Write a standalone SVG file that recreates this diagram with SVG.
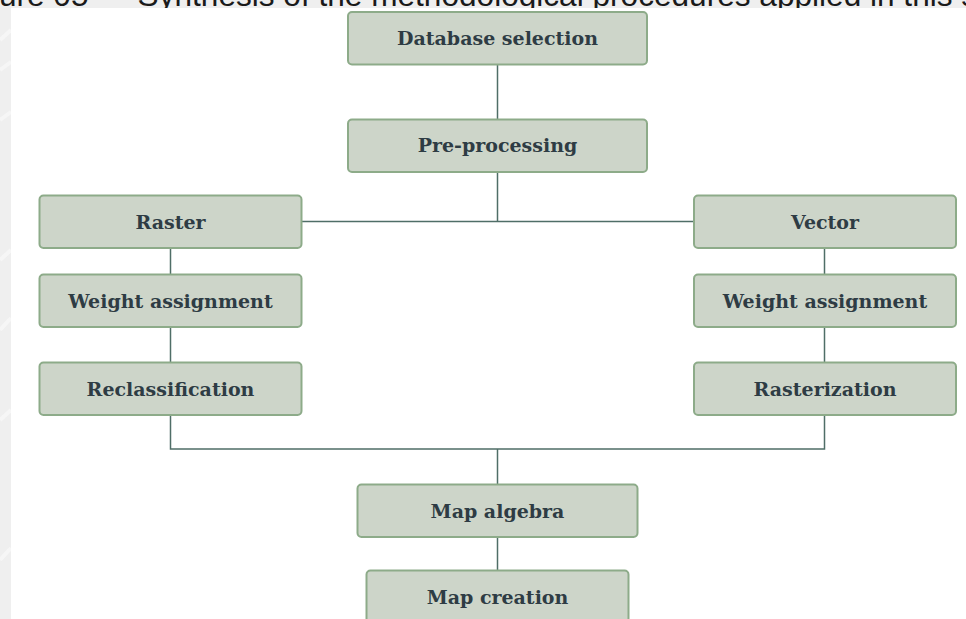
<svg xmlns="http://www.w3.org/2000/svg" width="966" height="619" viewBox="0 0 966 619">
  <style>
    .box { fill: #cdd5c9; stroke: #8dab89; stroke-width: 2; }
    .lbl { font-family: "DejaVu Serif", "Liberation Serif", serif; font-weight: bold; font-size: 19px; fill: #2e3c44; text-anchor: middle; }
    .conn { stroke: #4f6e67; stroke-width: 1.5; fill: none; }
    .hdr { font-family: "Liberation Sans", Arial, sans-serif; font-size: 31.6px; fill: #1a1a1a; }
  </style>
  <rect x="0" y="0" width="966" height="619" fill="#efefef"/>
  <g id="background-pattern" stroke="#f8f8f8" stroke-width="4" fill="none" opacity="0.8">
    <path d="M0 40 L11 30 M0 70 L11 62 M0 120 L11 112 M0 260 L11 250 M0 330 L11 318 M0 420 L11 410 M0 560 L11 548"/>
  </g>
  <text class="hdr" x="-45" y="6">Figure 05 — Synthesis of the methodological procedures applied in this study</text>
  <rect x="11" y="8" width="955" height="611" fill="#ffffff"/>

  <g id="connectors">
    <line class="conn" x1="497.5" y1="65" x2="497.5" y2="119"/>
    <polyline class="conn" points="497.5,172 497.5,221.5"/>
    <line class="conn" x1="302" y1="221.5" x2="694" y2="221.5"/>
    <line class="conn" x1="170.5" y1="248" x2="170.5" y2="274"/>
    <line class="conn" x1="170.5" y1="327" x2="170.5" y2="362"/>
    <line class="conn" x1="824.5" y1="248" x2="824.5" y2="274"/>
    <line class="conn" x1="824.5" y1="327" x2="824.5" y2="362"/>
    <polyline class="conn" points="170.5,415 170.5,449 824.5,449 824.5,415"/>
    <line class="conn" x1="497.5" y1="449" x2="497.5" y2="484"/>
    <line class="conn" x1="497.5" y1="537" x2="497.5" y2="570"/>
  </g>

  <g id="database-selection">
    <rect class="box" x="348" y="12" width="299" height="52.5" rx="4"/>
    <text class="lbl" x="497.5" y="45">Database selection</text>
  </g>
  <g id="pre-processing">
    <rect class="box" x="348" y="119.5" width="299" height="52.5" rx="4"/>
    <text class="lbl" x="497.5" y="152">Pre-processing</text>
  </g>
  <g id="raster">
    <rect class="box" x="39.5" y="195.5" width="262" height="52.5" rx="4"/>
    <text class="lbl" x="170.5" y="228.5">Raster</text>
  </g>
  <g id="weight-assignment-left">
    <rect class="box" x="39.5" y="274.5" width="262" height="52.5" rx="4"/>
    <text class="lbl" x="170.5" y="307.5">Weight assignment</text>
  </g>
  <g id="reclassification">
    <rect class="box" x="39.5" y="362.5" width="262" height="52.5" rx="4"/>
    <text class="lbl" x="170.5" y="395.5">Reclassification</text>
  </g>
  <g id="vector">
    <rect class="box" x="694" y="195.5" width="262" height="52.5" rx="4"/>
    <text class="lbl" x="825" y="228.5">Vector</text>
  </g>
  <g id="weight-assignment-right">
    <rect class="box" x="694" y="274.5" width="262" height="52.5" rx="4"/>
    <text class="lbl" x="825" y="307.5">Weight assignment</text>
  </g>
  <g id="rasterization">
    <rect class="box" x="694" y="362.5" width="262" height="52.5" rx="4"/>
    <text class="lbl" x="825" y="395.5">Rasterization</text>
  </g>
  <g id="map-algebra">
    <rect class="box" x="357.5" y="484.5" width="280" height="52.5" rx="4"/>
    <text class="lbl" x="497.5" y="517.5">Map algebra</text>
  </g>
  <g id="map-creation">
    <rect class="box" x="366.5" y="570.5" width="262" height="52.5" rx="4"/>
    <text class="lbl" x="497.5" y="603.5">Map creation</text>
  </g>
</svg>
